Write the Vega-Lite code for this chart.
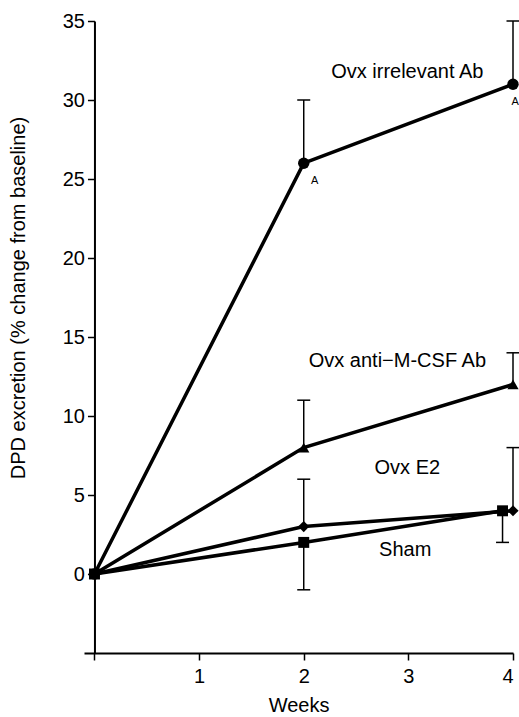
{
  "$schema": "https://vega.github.io/schema/vega-lite/v6.json",
  "width": 429,
  "height": 632,
  "autosize": "none",
  "padding": {"left": 84, "top": 21, "right": 6, "bottom": 64},
  "background": "white",
  "config": {
    "view": {"stroke": null},
    "font": "Liberation Sans",
    "axis": {
      "grid": false,
      "domainColor": "black",
      "domainWidth": 2,
      "tickColor": "black",
      "tickWidth": 1.5,
      "tickSize": 7,
      "labelColor": "black",
      "labelFontSize": 20,
      "titleFontSize": 20,
      "titleFontWeight": "normal",
      "titleColor": "black",
      "labelFont": "Liberation Sans",
      "titleFont": "Liberation Sans"
    }
  },
  "datasets": {
    "means": [
      {"group": "Ovx irrelevant Ab", "week": 0, "value": 0},
      {"group": "Ovx irrelevant Ab", "week": 2, "value": 26},
      {"group": "Ovx irrelevant Ab", "week": 4, "value": 31},
      {"group": "Ovx anti-M-CSF Ab", "week": 0, "value": 0},
      {"group": "Ovx anti-M-CSF Ab", "week": 2, "value": 8},
      {"group": "Ovx anti-M-CSF Ab", "week": 4, "value": 12},
      {"group": "Ovx E2", "week": 0, "value": 0},
      {"group": "Ovx E2", "week": 2, "value": 3},
      {"group": "Ovx E2", "week": 4, "value": 4},
      {"group": "Sham", "week": 0, "value": 0},
      {"group": "Sham", "week": 2, "value": 2},
      {"group": "Sham", "week": 3.9, "value": 4}
    ],
    "errors": [
      {"group": "Ovx irrelevant Ab", "week": 2, "from": 26, "to": 30},
      {"group": "Ovx irrelevant Ab", "week": 4, "from": 31, "to": 35},
      {"group": "Ovx anti-M-CSF Ab", "week": 2, "from": 8, "to": 11},
      {"group": "Ovx anti-M-CSF Ab", "week": 4, "from": 12, "to": 14},
      {"group": "Ovx E2", "week": 2, "from": 3, "to": 6},
      {"group": "Ovx E2", "week": 4, "from": 4, "to": 8},
      {"group": "Sham", "week": 2, "from": 2, "to": -1},
      {"group": "Sham", "week": 3.9, "from": 4, "to": 2}
    ],
    "labels": [
      {"text": "Ovx irrelevant Ab", "week": 2.99, "value": 31.8, "size": 20},
      {"text": "Ovx anti\u2212M-CSF Ab", "week": 2.895, "value": 13.5, "size": 20},
      {"text": "Ovx E2", "week": 2.99, "value": 6.7, "size": 20},
      {"text": "Sham", "week": 2.97, "value": 1.5, "size": 20},
      {"text": "A", "week": 2.105, "value": 24.9, "size": 11},
      {"text": "A", "week": 4.02, "value": 29.9, "size": 11}
    ]
  },
  "layer": [
    {
      "data": {"name": "errors"},
      "mark": {"type": "rule", "color": "black", "strokeWidth": 1.5},
      "encoding": {
        "x": {"field": "week", "type": "quantitative", "scale": {"domain": [-0.1, 4], "nice": false},
          "axis": {"values": [0, 1, 2, 3, 4], "format": "d", "labelExpr": "datum.value == 0 ? '' : datum.label", "title": "Weeks", "labelPadding": 6, "titlePadding": 9}},
        "y": {"field": "from", "type": "quantitative", "scale": {"domain": [-5, 35], "nice": false},
          "axis": {"values": [0, 5, 10, 15, 20, 25, 30, 35], "title": "DPD excretion (% change from baseline)", "offset": -10.46, "labelPadding": 3, "titlePadding": 34, "titleY": 276.5}},
        "y2": {"field": "to"}
      }
    },
    {
      "data": {"name": "errors"},
      "mark": {"type": "tick", "orient": "horizontal", "color": "black", "thickness": 1.5, "size": 13, "opacity": 1},
      "encoding": {
        "x": {"field": "week", "type": "quantitative"},
        "y": {"field": "to", "type": "quantitative"}
      }
    },
    {
      "data": {"name": "means"},
      "mark": {"type": "line", "color": "black", "strokeWidth": 3.5},
      "encoding": {
        "x": {"field": "week", "type": "quantitative"},
        "y": {"field": "value", "type": "quantitative"},
        "detail": {"field": "group"}
      }
    },
    {
      "data": {"name": "means"},
      "mark": {"type": "point", "filled": true, "color": "black", "opacity": 1},
      "encoding": {
        "x": {"field": "week", "type": "quantitative"},
        "y": {"field": "value", "type": "quantitative"},
        "shape": {"field": "group", "type": "nominal", "legend": null,
          "scale": {"domain": ["Ovx irrelevant Ab", "Ovx anti-M-CSF Ab", "Ovx E2", "Sham"], "range": ["circle", "triangle-up", "diamond", "square"]}},
        "size": {"field": "group", "type": "nominal", "legend": null,
          "scale": {"domain": ["Ovx irrelevant Ab", "Ovx anti-M-CSF Ab", "Ovx E2", "Sham"], "range": [130, 120, 75, 140]}},
        "order": {"field": "week"}
      }
    },
    {
      "data": {"name": "labels"},
      "mark": {"type": "text", "color": "black", "font": "Liberation Sans", "align": "center", "baseline": "middle"},
      "encoding": {
        "x": {"field": "week", "type": "quantitative"},
        "y": {"field": "value", "type": "quantitative"},
        "text": {"field": "text"},
        "size": {"field": "size", "type": "quantitative", "scale": null}
      }
    }
  ]
}
